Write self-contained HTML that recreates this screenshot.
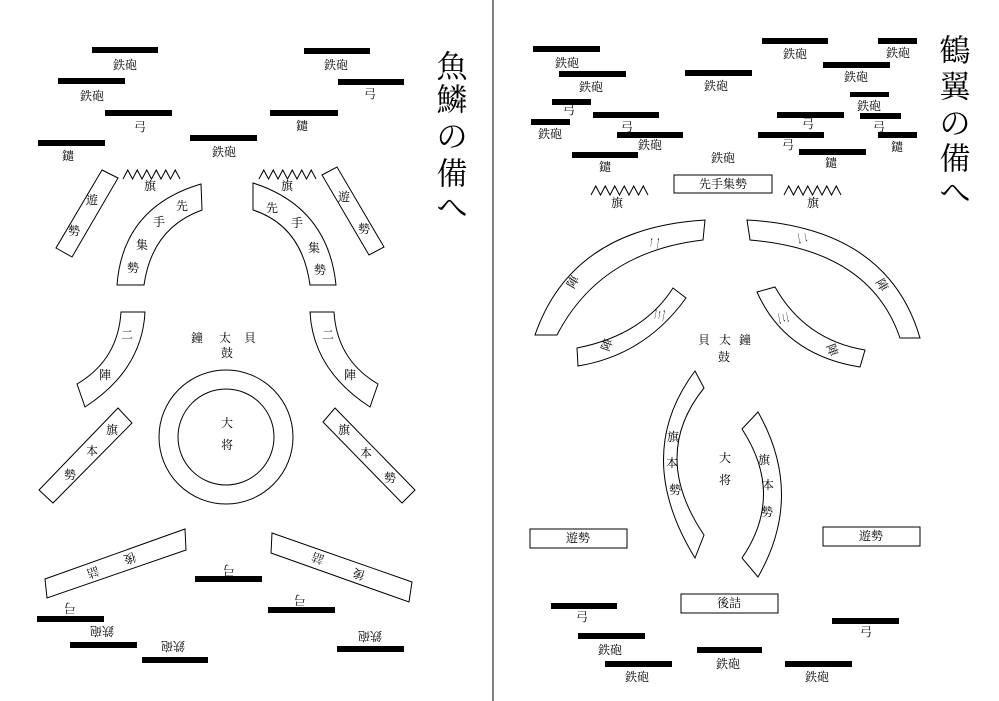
<!DOCTYPE html>
<html><head><meta charset="utf-8"><style>
html,body{margin:0;padding:0;background:#fff;width:999px;height:701px;overflow:hidden}
svg{display:block}
text{font-family:"Liberation Serif","Noto Serif CJK SC","Noto Sans CJK SC",serif;fill:#000;text-anchor:middle;dominant-baseline:central}
.s{font-size:12px}
.t{font-size:31px}
.sh{fill:#fff;stroke:#000;stroke-width:1}
.z{fill:none;stroke:#000;stroke-width:1}
</style></head><body>
<svg width="999" height="701" viewBox="0 0 999 701" xmlns="http://www.w3.org/2000/svg">
<line x1="493" y1="0" x2="493" y2="701" stroke="#000" stroke-width="1"/>
<!-- LEFT PANEL -->
<g fill="#000">
<rect x="92" y="47" width="66" height="6"/><rect x="58" y="78" width="67" height="6"/>
<rect x="105" y="110" width="67" height="6"/><rect x="38" y="140" width="67" height="6"/>
<rect x="190" y="135" width="67" height="6"/><rect x="304" y="48" width="66" height="6"/>
<rect x="338" y="79" width="66" height="6"/><rect x="270" y="110" width="68" height="6"/>
<rect x="195" y="576" width="67" height="6"/><rect x="37" y="616" width="67" height="6"/>
<rect x="70" y="642" width="67" height="6"/><rect x="142" y="657" width="66" height="6"/>
<rect x="268" y="607" width="67" height="6"/><rect x="337" y="646" width="67" height="6"/>
</g>
<text class="s" x="125" y="65">鉄砲</text><text class="s" x="92" y="96">鉄砲</text>
<text class="s" x="140" y="127">弓</text><text class="s" x="68" y="156">鑓</text>
<text class="s" x="224" y="152">鉄砲</text><text class="s" x="336" y="65">鉄砲</text>
<text class="s" x="370" y="94">弓</text><text class="s" x="302" y="126">鑓</text>
<text class="t" x="452" y="67">魚</text><text class="t" x="452" y="100">鱗</text>
<text class="t" x="452" y="137">の</text><text class="t" x="452" y="174">備</text>
<text class="t" x="452" y="208">へ</text>
<polyline class="z" points="123,179 127.75,170 132.5,179 137.25,170 142,179 146.75,170 151.5,179 156.25,170 161,179 165.75,170 170.5,179 175.25,170 180,179"/>
<polyline class="z" points="259,179 263.75,170 268.5,179 273.25,170 278,179 282.75,170 287.5,179 292.25,170 297,179 301.75,170 306.5,179 311.25,170 316,179"/>
<text class="s" x="150" y="186">旗</text><text class="s" x="287" y="186">旗</text>
<polygon class="sh" points="102,170 118,178 72,257 56,248"/>
<text class="s" x="92" y="200">遊</text><text class="s" x="74" y="231">勢</text>
<polygon class="sh" points="322,175 337,167 384,247 369,255"/>
<text class="s" x="344" y="197">遊</text><text class="s" x="364" y="229">勢</text>
<path class="sh" d="M201,184 L202,210 Q152,228 144,285 L117,285 Q123,207 201,184 Z"/>
<text class="s" x="182" y="206">先</text><text class="s" x="159" y="222">手</text>
<text class="s" x="142" y="245">集</text><text class="s" x="133" y="268">勢</text>
<path class="sh" d="M253,183 L253,210 Q302,226 310,285 L336,285 Q328,207 253,183 Z"/>
<text class="s" x="272" y="208">先</text><text class="s" x="297" y="223">手</text>
<text class="s" x="314" y="248">集</text><text class="s" x="320" y="270">勢</text>
<path class="sh" d="M121,312 L145,312 Q142,370 85,407 L77,384 Q118,360 121,312 Z"/>
<text class="s" x="127" y="335">二</text><text class="s" x="105" y="375">陣</text>
<path class="sh" d="M334,312 L310,312 Q313,370 370,407 L378,384 Q337,360 334,312 Z"/>
<text class="s" x="328" y="335">二</text><text class="s" x="350" y="375">陣</text>
<polygon class="sh" points="118,408 132,423 53,503 39,490"/>
<text class="s" x="112" y="430">旗</text><text class="s" x="92" y="451">本</text><text class="s" x="70" y="475">勢</text>
<polygon class="sh" points="335,408 415,490 402,503 323,422"/>
<text class="s" x="344" y="430">旗</text><text class="s" x="366" y="453">本</text><text class="s" x="390" y="478">勢</text>
<circle class="sh" cx="226" cy="437" r="67"/><circle class="sh" cx="226" cy="437" r="48"/>
<text class="s" x="227" y="423">大</text><text class="s" x="227" y="445">将</text>
<text class="s" x="197" y="338">鐘</text><text class="s" x="225" y="338">太</text><text class="s" x="250" y="338">貝</text>
<text class="s" x="227" y="353">鼓</text>
<polygon class="sh" points="45,579 185,529 186,550 47,598"/>
<text class="s" transform="translate(93,572) rotate(160)">詰</text>
<text class="s" transform="translate(130,558) rotate(160)">後</text>
<polygon class="sh" points="272,533 412,582 409,602 271,553"/>
<text class="s" transform="translate(318,558) rotate(200)">詰</text>
<text class="s" transform="translate(359,574) rotate(200)">後</text>
<text class="s" transform="translate(229,570) rotate(180)">弓</text>
<text class="s" transform="translate(70,608) rotate(180)">弓</text>
<text class="s" transform="translate(300,600) rotate(180)">弓</text>
<text class="s" transform="translate(102,631) rotate(180)">鉄砲</text>
<text class="s" transform="translate(173,646) rotate(180)">鉄砲</text>
<text class="s" transform="translate(370,636) rotate(180)">鉄砲</text>
<!-- RIGHT PANEL -->
<g fill="#000">
<rect x="533" y="46" width="67" height="6"/><rect x="559" y="71" width="67" height="6"/>
<rect x="552" y="99" width="39" height="6"/><rect x="531" y="119" width="39" height="6"/>
<rect x="593" y="112" width="66" height="6"/><rect x="617" y="132" width="66" height="6"/>
<rect x="572" y="152" width="66" height="6"/><rect x="685" y="70" width="67" height="6"/>
<rect x="762" y="38" width="66" height="6"/><rect x="878" y="38" width="39" height="6"/>
<rect x="823" y="62" width="67" height="6"/><rect x="850" y="92" width="39" height="5"/>
<rect x="777" y="112" width="67" height="6"/><rect x="860" y="113" width="41" height="6"/>
<rect x="758" y="132" width="66" height="6"/><rect x="799" y="149" width="67" height="6"/>
<rect x="878" y="132" width="39" height="6"/>
<rect x="551" y="603" width="66" height="6"/><rect x="578" y="633" width="67" height="6"/>
<rect x="605" y="661" width="67" height="6"/><rect x="697" y="647" width="65" height="6"/>
<rect x="785" y="661" width="67" height="6"/><rect x="832" y="618" width="67" height="6"/>
</g>
<text class="s" x="567" y="63">鉄砲</text><text class="s" x="591" y="87">鉄砲</text>
<text class="s" x="569" y="110">弓</text><text class="s" x="550" y="134">鉄砲</text>
<text class="s" x="627" y="127">弓</text><text class="s" x="650" y="145">鉄砲</text>
<text class="s" x="605" y="167">鑓</text><text class="s" x="716" y="86">鉄砲</text>
<text class="s" x="723" y="158">鉄砲</text><text class="s" x="795" y="54">鉄砲</text>
<text class="s" x="898" y="53">鉄砲</text><text class="s" x="856" y="77">鉄砲</text>
<text class="s" x="869" y="106">鉄砲</text><text class="s" x="808" y="124">弓</text>
<text class="s" x="879" y="127">弓</text><text class="s" x="788" y="145">弓</text>
<text class="s" x="831" y="163">鑓</text><text class="s" x="897" y="147">鑓</text>
<text class="t" x="955" y="51">鶴</text><text class="t" x="955" y="87">翼</text>
<text class="t" x="955" y="124">の</text><text class="t" x="955" y="159">備</text>
<text class="t" x="955" y="193">へ</text>
<rect class="sh" x="674" y="175" width="98" height="18"/>
<text class="s" x="723" y="184">先手集勢</text>
<polyline class="z" points="591,195 595.75,186 600.5,195 605.25,186 610,195 614.75,186 619.5,195 624.25,186 629,195 633.75,186 638.5,195 643.25,186 648,195"/>
<polyline class="z" points="784,195 788.75,186 793.5,195 798.25,186 803,195 807.75,186 812.5,195 817.25,186 822,195 826.75,186 831.5,195 836.25,186 841,195"/>
<text class="s" x="617" y="203">旗</text><text class="s" x="813" y="203">旗</text>
<path class="sh" d="M705,220 L703,240 Q600,252 557,335 L535,335 Q572,228 705,220 Z"/>
<text class="s" transform="translate(655,243) rotate(-80)">二</text>
<text class="s" transform="translate(573,282) rotate(-60)">陣</text>
<path class="sh" d="M747,220 Q888,228 920,338 L900,338 Q870,250 750,240 Z"/>
<text class="s" transform="translate(802,238) rotate(80)">二</text>
<text class="s" transform="translate(882,285) rotate(60)">陣</text>
<path class="sh" d="M673,288 L686,298 Q645,355 578,366 L577,348 Q643,335 673,288 Z"/>
<text class="s" transform="translate(660,315) rotate(-80)">三</text>
<text class="s" transform="translate(607,345) rotate(-70)">陣</text>
<path class="sh" d="M757,292 L775,287 Q805,340 865,350 L860,367 Q785,355 757,292 Z"/>
<text class="s" transform="translate(783,318) rotate(80)">三</text>
<text class="s" transform="translate(832,350) rotate(70)">陣</text>
<text class="s" x="704" y="340">貝</text><text class="s" x="725" y="340">太</text><text class="s" x="745" y="340">鐘</text>
<text class="s" x="724" y="357">鼓</text>
<path class="sh" d="M695,371 L704,388 Q650,455 704,535 L695,558 Q632,455 695,371 Z"/>
<text class="s" x="673" y="437">旗</text><text class="s" x="672" y="463">本</text><text class="s" x="675" y="490">勢</text>
<path class="sh" d="M742,429 L758,412 Q805,495 758,577 L742,558 Q785,495 742,429 Z"/>
<text class="s" x="764" y="460">旗</text><text class="s" x="768" y="485">本</text><text class="s" x="767" y="512">勢</text>
<text class="s" x="725" y="458">大</text><text class="s" x="725" y="480">将</text>
<rect class="sh" x="530" y="529" width="97" height="19"/><text class="s" x="578" y="538">遊勢</text>
<rect class="sh" x="823" y="527" width="97" height="19"/><text class="s" x="871" y="536">遊勢</text>
<rect class="sh" x="681" y="594" width="97" height="19"/><text class="s" x="729" y="603">後詰</text>
<text class="s" x="582" y="617">弓</text><text class="s" x="610" y="650">鉄砲</text>
<text class="s" x="637" y="677">鉄砲</text><text class="s" x="728" y="664">鉄砲</text>
<text class="s" x="817" y="677">鉄砲</text><text class="s" x="866" y="632">弓</text>
</svg>
</body></html>
